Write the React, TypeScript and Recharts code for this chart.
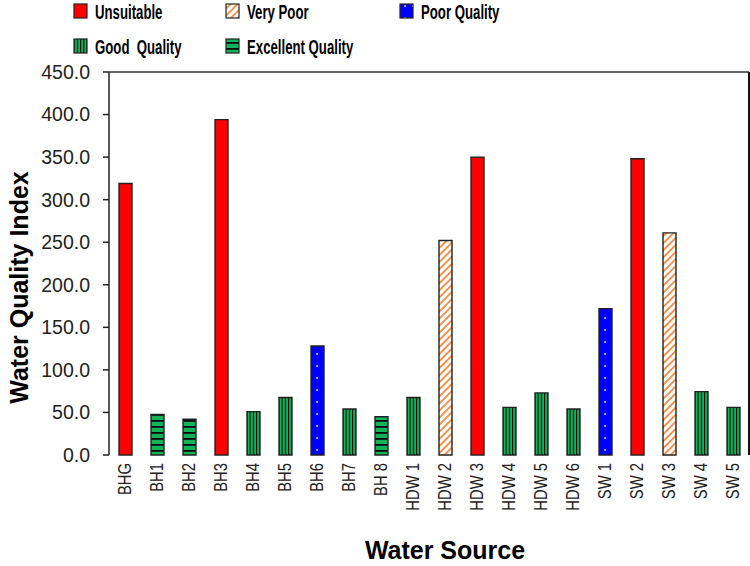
import React from 'react';
import { BarChart, Bar, Cell, XAxis, YAxis, ReferenceLine, Legend } from 'recharts';

// Water quality index per sampled source
const sources = ['BHG', 'BH1', 'BH2', 'BH3', 'BH4', 'BH5', 'BH6', 'BH7', 'BH 8', 'HDW 1', 'HDW 2', 'HDW 3', 'HDW 4', 'HDW 5', 'HDW 6', 'SW 1', 'SW 2', 'SW 3', 'SW 4', 'SW 5'];
const wqi = [319, 47.5, 42, 394, 51, 67.5, 128, 54, 45, 67.5, 252, 350, 56, 73, 54, 172, 348, 261, 74.5, 56];
const quality = [
  'Unsuitable', 'Excellent Quality', 'Excellent Quality', 'Unsuitable', 'Good Quality', 'Good Quality', 'Poor Quality',
  'Good Quality', 'Excellent Quality', 'Good Quality', 'Very Poor', 'Unsuitable', 'Good Quality', 'Good Quality',
  'Good Quality', 'Poor Quality', 'Unsuitable', 'Very Poor', 'Good Quality', 'Good Quality',
];
const yTicks = [0, 50, 100, 150, 200, 250, 300, 350, 400, 450];
const slotTicks = Array.from({ length: sources.length + 1 }, (_, i) => i);

// legend rows / columns
const legendItems = [
  { key: 'Unsuitable', label: 'Unsuitable', fill: 'url(#unsuitable)', col: 0, row: 0 },
  { key: 'Very Poor', label: 'Very Poor', fill: 'url(#veryPoor)', col: 1, row: 0 },
  { key: 'Poor Quality', label: 'Poor Quality', fill: 'url(#poor)', col: 2, row: 0 },
  { key: 'Good Quality', label: 'Good  Quality', fill: 'url(#good)', col: 0, row: 1 },
  { key: 'Excellent Quality', label: 'Excellent Quality', fill: 'url(#excellent)', col: 1, row: 1 },
];

const fillFor: Record<string, string> = {
  'Unsuitable': 'url(#unsuitable)',
  'Very Poor': 'url(#veryPoor)',
  'Poor Quality': 'url(#poor)',
  'Good Quality': 'url(#good)',
  'Excellent Quality': 'url(#excellent)',
};

const data = sources.map((name, i) => ({ name, wqi: wqi[i], quality: quality[i], slot: i + 0.5 }));

const FONT = '"Liberation Sans", Arial, sans-serif';
const GREEN = '#10b25a';

const Patterns = () => (
  <defs>
    <pattern id="unsuitable" width="4" height="4" patternUnits="userSpaceOnUse">
      <rect width="4" height="4" fill="#ff0000" />
    </pattern>
    <pattern id="veryPoor" width="5" height="5" patternUnits="userSpaceOnUse" patternTransform="rotate(45)">
      <rect width="5" height="5" fill="#ffffff" />
      <rect width="2" height="5" fill="#f5944f" />
    </pattern>
    <pattern id="poor" width="8" height="12" patternUnits="userSpaceOnUse">
      <rect width="8" height="12" fill="#0000ff" />
      <circle cx="5" cy="6" r="0.9" fill="#cfd8ff" />
    </pattern>
    <pattern id="good" width="3.2" height="4" patternUnits="userSpaceOnUse">
      <rect width="3.2" height="4" fill={GREEN} />
      <rect width="1.1" height="4" fill="#0a0a0a" />
    </pattern>
    <pattern id="excellent" width="4" height="6" patternUnits="userSpaceOnUse">
      <rect width="4" height="6" fill={GREEN} />
      <rect width="4" height="1.8" fill="#0a0a0a" />
    </pattern>
  </defs>
);

const LegendBox = () => (
  <svg width={750} height={66} style={{ display: 'block' }}>
    {legendItems.map((it) => {
      const x = [74, 226, 400][it.col];
      const y = it.row === 0 ? 4 : 39;
      return (
        <g key={it.key}>
          <rect x={x} y={y} width={13} height={14} fill={it.fill} stroke="#222" strokeWidth={1.2} />
          <text
            transform={`translate(${x + 21},${y + 15}) scale(0.66,1)`}
            fontFamily={FONT}
            fontWeight="bold"
            fontSize={20}
            fill="#000"
            style={{ whiteSpace: 'pre' }}
          >
            {it.label}
          </text>
        </g>
      );
    })}
  </svg>
);

const SourceTick = (props: any) => {
  const { x, y, payload } = props;
  return (
    <g transform={`translate(${x - 1},${y})`}>
      <text
        transform="rotate(-90) scale(0.78,1)"
        textAnchor="end"
        dy="0.36em"
        fontFamily={FONT}
        fontSize={19}
        fill="#222"
      >
        {payload.value}
      </text>
    </g>
  );
};

const YTitle = (props: any) => {
  const { viewBox } = props;
  const cy = viewBox.y + viewBox.height / 2 + 24;
  return (
    <text
      transform={`translate(${viewBox.x + 28},${cy}) rotate(-90)`}
      textAnchor="middle"
      fontFamily={FONT}
      fontWeight="bold"
      fontSize={25}
      fill="#000"
    >
      Water Quality Index
    </text>
  );
};

const XTitle = (props: any) => {
  const { viewBox } = props;
  return (
    <text
      x={viewBox.x + viewBox.width / 2 + 16}
      y={viewBox.y + viewBox.height - 7}
      textAnchor="middle"
      fontFamily={FONT}
      fontWeight="bold"
      fontSize={25}
      fill="#000"
    >
      Water Source
    </text>
  );
};

export default function App() {
  return (
    <div style={{ position: 'absolute', left: 0, top: 0, width: 750, height: 566, background: '#fff' }}>
      <BarChart width={750} height={566} data={data} margin={{ top: 72, right: 1, bottom: 0, left: 0 }}>
        <Patterns />
        <Legend
          verticalAlign="middle"
          align="center"
          content={() => <LegendBox />}
          wrapperStyle={{ top: 0, left: 0, width: 750, height: 66 }}
        />
        <XAxis
          xAxisId="slots"
          dataKey="slot"
          type="number"
          domain={[0, sources.length]}
          ticks={slotTicks}
          allowDataOverflow
          height={0}
          tick={false}
          tickSize={6}
          tickLine={{ stroke: '#222', strokeWidth: 1.5 }}
          axisLine={{ stroke: '#222', strokeWidth: 1.5 }}
        />
        <XAxis
          xAxisId="cat"
          dataKey="name"
          type="category"
          height={111}
          interval={0}
          tickLine={false}
          axisLine={false}
          tickSize={6}
          tickMargin={2}
          tick={<SourceTick />}
          label={{ content: <XTitle /> }}
        />
        <YAxis
          domain={[0, 450]}
          ticks={yTicks}
          width={109}
          tickFormatter={(v: number) => v.toFixed(1)}
          tickSize={6}
          tickMargin={13}
          tick={{ fontFamily: FONT, fontSize: 19.5, fill: '#222' }}
          tickLine={{ stroke: '#222', strokeWidth: 1.5 }}
          axisLine={{ stroke: '#222', strokeWidth: 1.5 }}
          label={{ content: <YTitle /> }}
        />
        <ReferenceLine y={450} xAxisId="cat" stroke="#333" strokeWidth={1.5} />
        <ReferenceLine x={sources.length} xAxisId="slots" stroke="#111" strokeWidth={2} />
        <Bar dataKey="wqi" xAxisId="cat" barSize={13} isAnimationActive={false} stroke="#222" strokeWidth={1.4}>
          {data.map((d) => (
            <Cell key={d.name} fill={fillFor[d.quality]} />
          ))}
        </Bar>
      </BarChart>
    </div>
  );
}
